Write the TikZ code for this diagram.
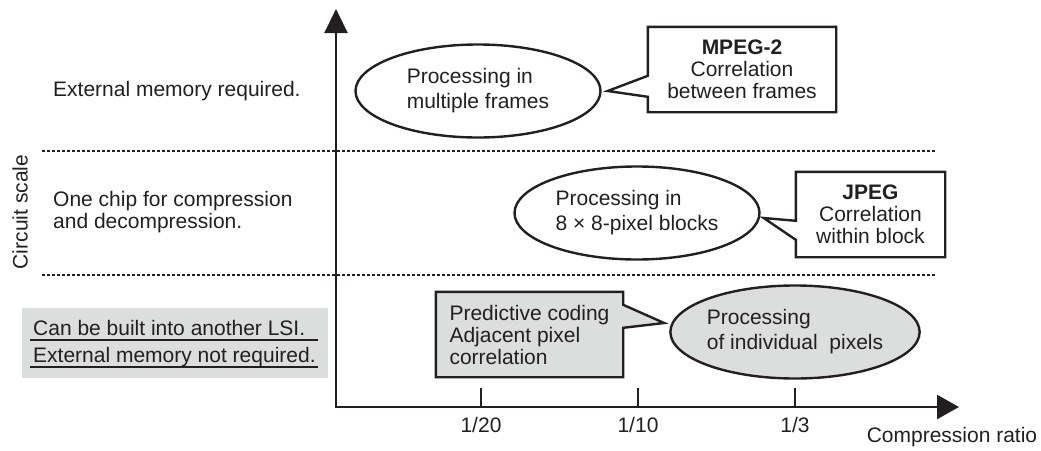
\documentclass[tikz,border=0pt]{standalone}
\usepackage{fontspec}
\setmainfont{Liberation Sans}
\usepackage{xcolor}
\usetikzlibrary{arrows.meta,shapes.geometric,calc,backgrounds}
\definecolor{inkdark}{HTML}{231F20}
\definecolor{panelgray}{HTML}{DCDDDD}

\begin{document}
\begin{tikzpicture}[x=1pt,y=-1pt,
    every node/.style={font=\fontsize{21}{22}\selectfont, text=inkdark, inner sep=0pt},
    bubble/.style={ellipse, draw=inkdark, line width=2.4pt, minimum width=245pt, minimum height=93pt,
        align=left, font=\fontsize{21}{25}\selectfont},
    calltext/.style={minimum height=85pt, align=center},
    callline/.style={draw=inkdark, line width=2.4pt, line join=miter},
    sep/.style={inkdark, line width=2.1pt, dash pattern=on 3pt off 2pt}]
    \useasboundingbox (0,0) rectangle (1041,450);

    % Rows of the circuit scale
    \draw[sep] (42,151) -- (935,151);
    \draw[sep] (42,275) -- (935,275);
    \node[anchor=west] (extmem) at (53,91) {External memory required.};
    \node[anchor=west, align=left] (onechip) at (53,212) {One chip for compression\\and decompression.};
    \node[fill=panelgray, minimum width=306pt, minimum height=70pt] (lsi) at (175,343) {};
    \node[anchor=base west] (lsitop) at (33,335) {Can be built into another LSI.};
    \node[anchor=base west] (lsibot) at (33,362) {External memory not required.};
    \draw[inkdark, line width=2.4pt] (30,340) -- (318,340);
    \draw[inkdark, line width=2.4pt] (30,367) -- (318,367);
    \node[rotate=90] (yname) at (20,212) {Circuit scale};

    % Axes
    \coordinate (O) at (336,407);
    \draw[inkdark, line width=2.3pt, {Triangle[length=24pt,width=23pt]}-{Triangle[length=22pt,width=24pt]}]
        (336,9) -- (O) -- (959,407);
    \foreach \x/\r in {481/20, 638/10, 795/3} {
        \draw[inkdark, line width=2.3pt] (\x,388) -- (\x,407);
        \node (tick\r) at (\x,425) {1/\r};
    }
    \node (xname) at (952,437) {Compression ratio};

    % Processing methods
    \node[bubble] (frames) at (478,91) {Processing in\\multiple frames};
    \node[bubble] (blocks) at (637,213) {Processing in\\8 × 8-pixel blocks};
    \node[bubble, fill=panelgray] (pixels) at (795,332) {Processing\\of individual\ \ pixels};

    % Callouts
    \node[calltext, minimum width=188pt] (mpeg) at (742,69.5) {\textbf{MPEG-2}\\Correlation\\between frames};
    \node[calltext, minimum width=149pt] (jpeg) at (870.5,214.5) {\textbf{JPEG}\\Correlation\\within block};
    \node[calltext, minimum width=187pt, align=left] (pred) at (529.5,334.5) {Predictive coding\\Adjacent pixel\\correlation};
    \begin{pgfonlayer}{background}
        \path[callline, fill=white] (mpeg.north west) -- (mpeg.north east) -- (mpeg.south east) -- (mpeg.south west)
            -- ($(mpeg.north west)+(0,70)$) -- ($(frames.east)+(6,0)$) -- ($(mpeg.north west)+(0,49)$) -- cycle;
        \path[callline, fill=white] (jpeg.north west) -- (jpeg.north east) -- (jpeg.south east) -- (jpeg.south west)
            -- ($(jpeg.north west)+(0,68)$) -- ($(blocks.east)+(3,5)$) -- ($(jpeg.north west)+(0,49)$) -- cycle;
        \path[callline, fill=panelgray] (pred.north west) -- (pred.north east) -- ($(pred.north east)+(0,13)$)
            -- ($(pixels.west)+(-5,-9)$) -- ($(pred.north east)+(0,36)$) -- (pred.south east) -- (pred.south west) -- cycle;
    \end{pgfonlayer}
\end{tikzpicture}
\end{document}
